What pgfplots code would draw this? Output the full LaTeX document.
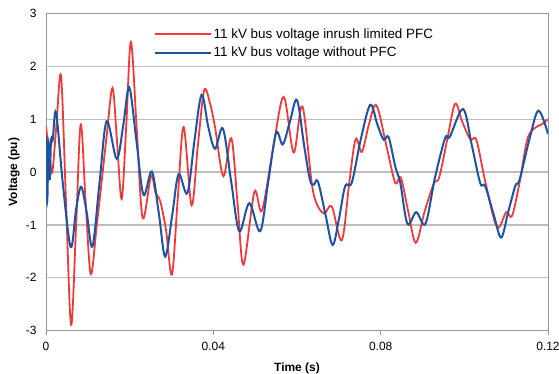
\documentclass[border=0pt]{standalone}
\usepackage{pgfplots}
\pgfplotsset{compat=1.18}
\usepackage{fontspec}
\setmainfont{Liberation Sans}
\definecolor{cred}{RGB}{238,58,58}
\definecolor{cblue}{RGB}{30,82,162}
\definecolor{gridc}{RGB}{190,190,190}
\definecolor{axc}{RGB}{145,152,160}
\begin{document}
\begin{tikzpicture}
\useasboundingbox (-46bp,-43.3bp) rectangle (513bp,330.7bp);
\begin{axis}[
  scale only axis, width=502bp, height=317.4bp,
  xmin=0, xmax=0.12, ymin=-3, ymax=3,
  xtick={0,0.04,0.08,0.12}, xticklabels={0,0.04,0.08,0.12},
  ytick={-3,-2,-1,0,1,2,3}, yticklabels={-3,-2,-1,0,1,2,3},
  scaled x ticks=false,
  /pgf/number format/assume math mode=true,
  tick label style={font=\fontsize{12}{14}\selectfont},
  ymajorgrids, grid style={draw=gridc, line width=1.2bp},
  axis line style={draw=axc, line width=1bp},
  xtick pos=bottom, ytick pos=left, tick align=outside,
  major tick length=4bp,
  xtick style={draw=axc, line width=1bp},
  ytick style={draw=none},
  yticklabel style={xshift=-2bp},
  xticklabel style={yshift=-4bp},
  xlabel={\bfseries Time (s)}, ylabel={\bfseries Voltage (pu)},
  label style={font=\fontsize{12}{14}\selectfont\bfseries},
  xlabel style={at={(axis description cs:0.5,-0.118)}, anchor=center},
  ylabel style={at={(axis description cs:-0.0637,0.5)}, anchor=center},
  legend style={draw=none, fill=none, at={(0.214,0.905)}, anchor=west,
    font=\fontsize{13.5}{15}\selectfont, row sep=3.5bp, inner xsep=0pt, inner ysep=0pt},
  legend cell align=left,
  legend image code/.code={\draw[#1] (0bp,0bp) -- (40bp,0bp); \path (0bp,0bp) -- (56bp,0bp);},
]
\addplot[cred, line width=1.8bp, smooth, tension=0.55] coordinates {
(0,0.86) (0.0008,0.35) (0.0015,0.00) (0.0025,0.9) (0.0036,1.81)
(0.0048,-0.6) (0.0060,-2.89) (0.0072,-1.0) (0.0083,0.90) (0.0095,-0.6)
(0.0107,-1.93) (0.0121,-1.03) (0.0133,-0.18) (0.0145,0.68) (0.0159,1.59)
(0.0170,0.55) (0.0181,-0.51) (0.0192,0.9) (0.0203,2.46) (0.0217,0.8)
(0.0231,-0.87) (0.0251,-0.08) (0.0262,-0.40) (0.0273,-0.55) (0.0287,-1.1)
(0.0301,-1.94) (0.0315,-0.5) (0.0329,0.85) (0.0348,-0.63) (0.0363,0.5)
(0.0378,1.54) (0.0392,1.30) (0.0404,0.85) (0.0424,-0.08) (0.0443,0.64)
(0.0458,-0.6) (0.0472,-1.75) (0.0498,-0.38) (0.0516,-0.73) (0.0542,0.4)
(0.0568,1.42) (0.0592,0.37) (0.0613,1.24) (0.0638,-0.35) (0.0663,-0.78)
(0.0683,-0.65) (0.0707,-1.29) (0.0725,-0.2) (0.0740,0.62) (0.0755,0.38)
(0.0772,0.9) (0.0790,1.26) (0.0815,0.45) (0.0835,-0.21) (0.0848,-0.10)
(0.0866,-0.75) (0.0884,-1.34) (0.0905,-0.75) (0.0927,-0.22) (0.0940,-0.10)
(0.0960,0.65) (0.0978,1.29) (0.0995,0.95) (0.1014,0.62) (0.1029,0.60)
(0.1050,-0.18) (0.1078,-1.04) (0.1100,-0.76) (0.1114,-0.83) (0.1132,-0.2)
(0.1150,0.6) (0.1166,0.82) (0.1185,0.9) (0.1200,1.00)
};
\addlegendentry{11 kV bus voltage inrush limited PFC}
\addplot[cblue, line width=2bp, smooth, tension=0.55] coordinates {
(0,0.67) (0.0003,-0.55) (0.0006,0.55) (0.0009,-0.15) (0.0012,0.6)
(0.0016,0.6) (0.0024,1.13) (0.0040,-0.2) (0.0059,-1.42) (0.0072,-0.7)
(0.0084,-0.28) (0.0097,-0.75) (0.0111,-1.41) (0.0128,-0.2) (0.0145,0.96)
(0.0169,0.25) (0.0185,0.9) (0.0199,1.60) (0.0216,0.6) (0.0233,-0.43)
(0.0253,0.01) (0.0270,-0.8) (0.0285,-1.60) (0.0302,-0.8) (0.0317,-0.04)
(0.0338,-0.40) (0.0355,0.6) (0.0372,1.46) (0.0388,0.85) (0.0404,0.44)
(0.0423,0.82) (0.0443,-0.2) (0.0462,-1.12) (0.0486,-0.59) (0.0512,-1.12)
(0.0531,-0.2) (0.0550,0.74) (0.0566,0.52) (0.0583,0.95) (0.0600,1.36)
(0.0617,0.5) (0.0631,-0.15) (0.0640,-0.24) (0.0650,-0.18) (0.0668,-0.8)
(0.0685,-1.38) (0.0700,-0.9) (0.0715,-0.27) (0.0731,-0.20) (0.0752,0.6)
(0.0775,1.27) (0.0792,0.9) (0.0807,0.61) (0.0819,0.66) (0.0835,0.1)
(0.0847,-0.21) (0.0864,-0.98) (0.0885,-0.76) (0.0907,-0.98) (0.0930,-0.1)
(0.0954,0.64) (0.0965,0.66) (0.0997,1.19) (0.1018,0.5) (0.1038,-0.21)
(0.1050,-0.27) (0.1070,-0.8) (0.1088,-1.24) (0.1105,-0.75) (0.1122,-0.26)
(0.1132,-0.15) (0.1155,0.6) (0.1177,1.16) (0.1200,0.72)
};
\addlegendentry{11 kV bus voltage without PFC}
\end{axis}
\end{tikzpicture}
\end{document}
